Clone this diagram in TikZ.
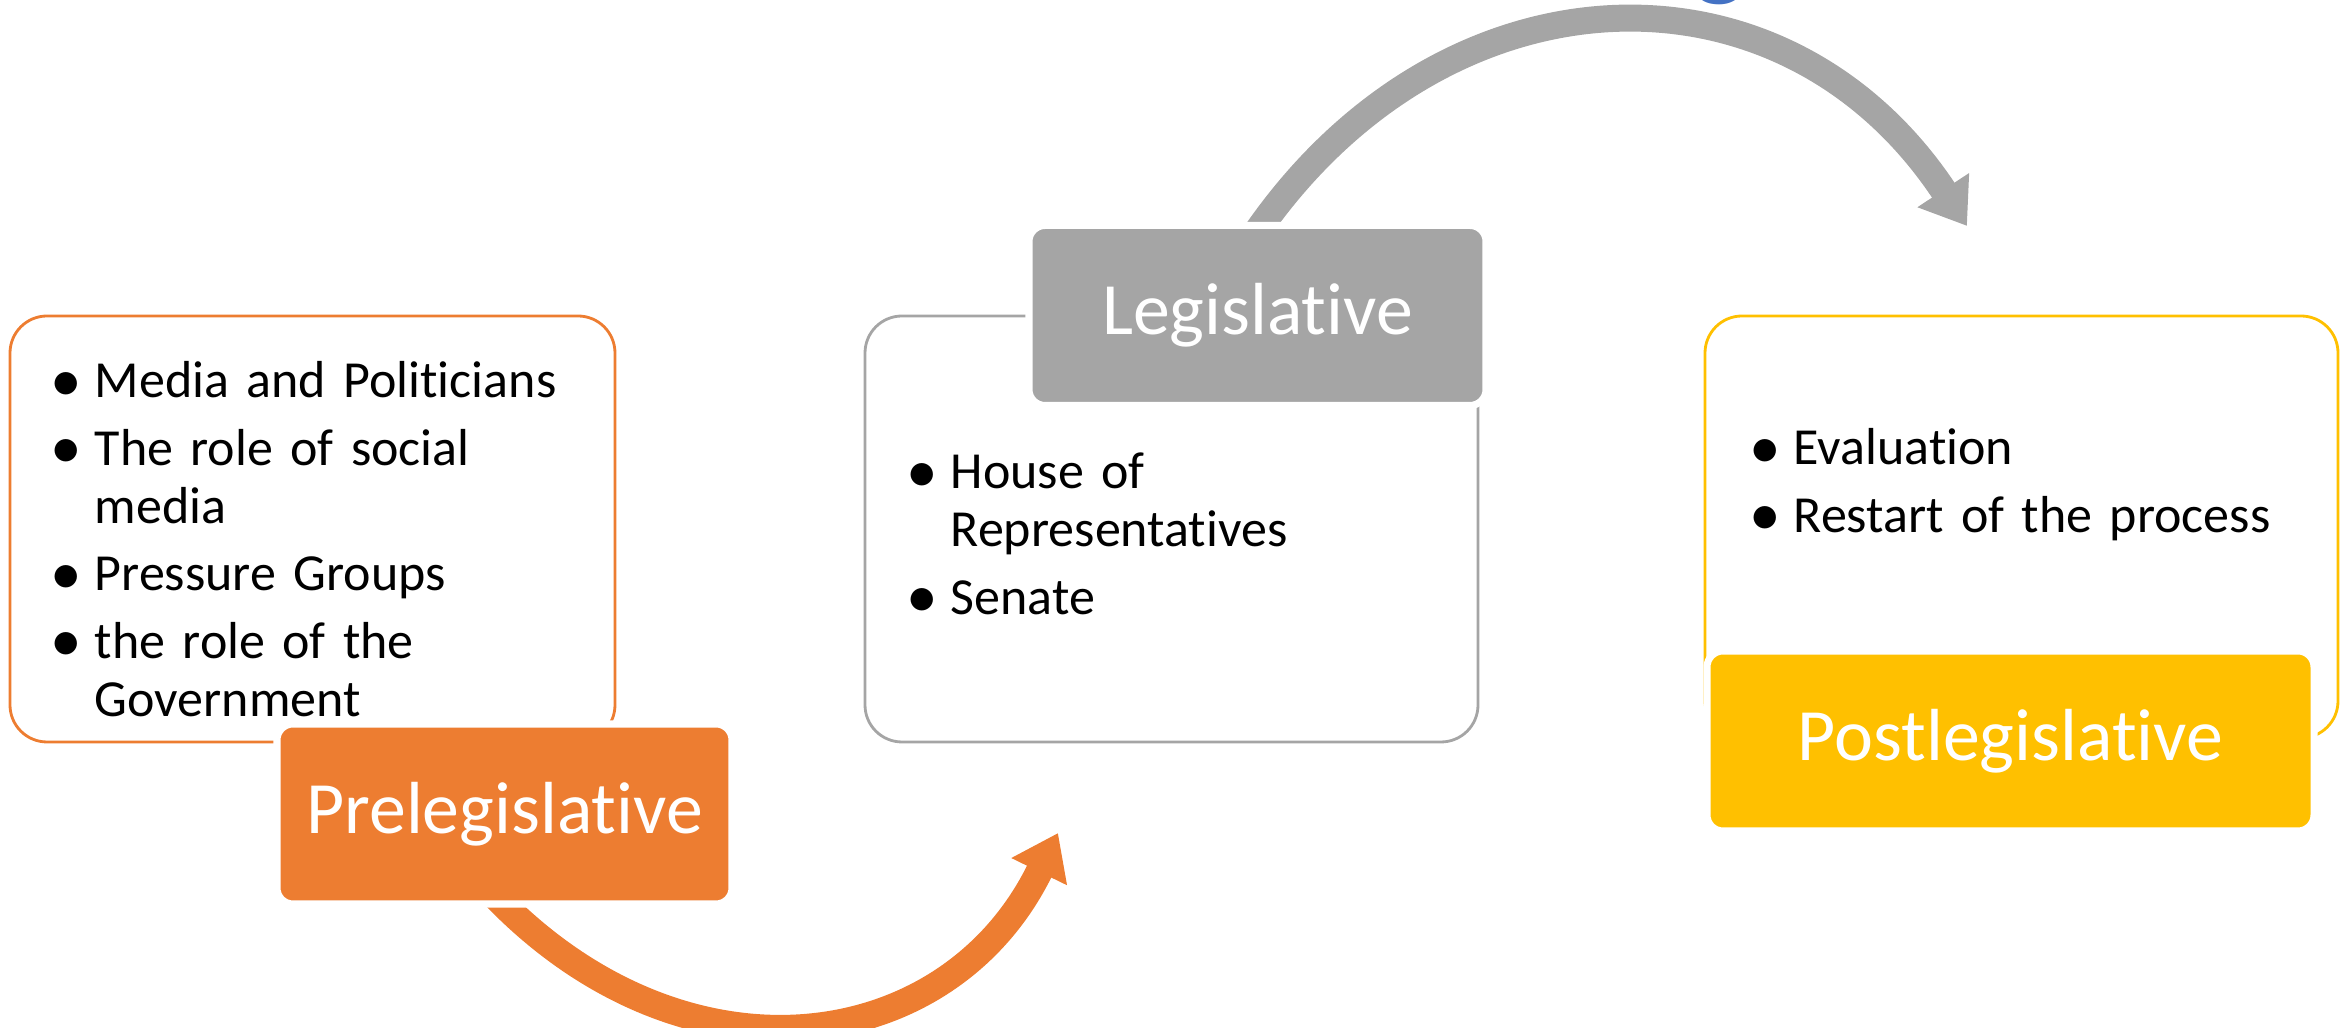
\documentclass[tikz,border=0pt]{standalone}
\usepackage{fontspec}
\setmainfont{Carlito}[Ligatures=NoCommon]
\usepackage{xcolor}
\usetikzlibrary{arrows.meta,positioning}

\definecolor{preorange}{HTML}{ED7D31}
\definecolor{leggray}{HTML}{A5A5A5}
\definecolor{postgold}{HTML}{FFC000}
\definecolor{titleblue}{HTML}{4472C4}

\newcommand{\bitem}{\makebox[0.40cm][l]{\hspace*{-0.04cm}\raisebox{-1pt}{\fontsize{18}{0}\selectfont\textbullet}}}
\newcommand{\bcont}{\hspace*{0.40cm}}

\begin{document}
\begin{tikzpicture}

\useasboundingbox (0,0) rectangle (23.46,10.28);

\tikzstyle{listbox} = [fill=white, line width=0.8pt, rectangle, rounded corners=0.37cm, minimum height=4.26cm]
\tikzstyle{stagebox} = [draw=white, line width=2pt, rectangle, rounded corners=0.16cm, minimum height=1.80cm, text=white, font=\fontsize{21}{25}\selectfont]
\tikzstyle{listtext} = [anchor=base west, inner sep=0pt, text width=7cm, align=left, font=\fontsize{14.8}{16.5}\selectfont]
\tikzstyle{bigarrow} = [line width=0.27cm, -{Triangle[width=0.59cm,length=0.43cm]}]

% cut-off title letter
\node (titleg) [titleblue, anchor=base, inner sep=0pt, font=\fontsize{32}{38}\selectfont] at (17.20,10.42) {g};

% list boxes
\node (prebox) [listbox, draw=preorange, minimum width=6.05cm] at (3.125,4.99) {};
\node (legbox) [listbox, draw=leggray, minimum width=6.13cm] at (11.715,4.99) {};
\node (postbox) [listbox, draw=postgold, minimum width=6.33cm, minimum height=4.22cm] at (20.215,5.01) {};

% arrows
\coordinate (preout) at (4.95,1.32);
\coordinate (legin) at (10.58,1.95);
\draw [bigarrow, preorange] (preout) .. controls +(-46:2.75) and +(244:2.5) .. (legin);

\coordinate (legout) at (12.52,7.89);
\coordinate (postin) at (19.67,8.02);
\draw [bigarrow, leggray] (legout) .. controls +(56:3.36) and +(123.5:3.36) .. (postin);

% stage labels
\node (pre) [stagebox, fill=preorange, minimum width=4.55cm] at (5.045,2.14) {Prelegislative};
\node (leg) [stagebox, fill=leggray, minimum width=4.57cm] at (12.575,7.125) {Legislative};
\node (post) [stagebox, fill=postgold, minimum width=6.07cm] at (20.105,2.87) {Postlegislative};

% bullet texts
\node (pretext) [listtext] at (0.54,6.30) {\bitem Media and Politicians\\[2.7pt]
\bitem The role of social\\
\bcont media\\[2.7pt]
\bitem Pressure Groups\\[2.7pt]
\bitem the role of the\\
\bcont Government};

\node (legtext) [listtext] at (9.10,5.39) {\bitem House of\\
\bcont Representatives\\[2.7pt]
\bitem Senate};

\node (posttext) [listtext] at (17.53,5.63) {\bitem Evaluation\\[2.7pt]
\bitem Restart of the process};

\end{tikzpicture}
\end{document}
